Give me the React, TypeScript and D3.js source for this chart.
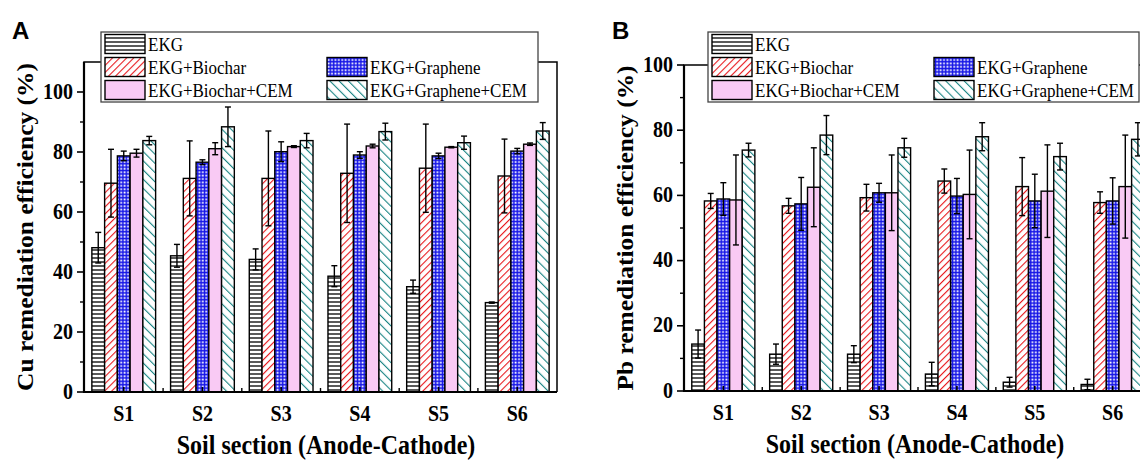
import React from "react";
import * as d3 from "d3";

// Soil sections along the cell, anode to cathode
const sections = ["S1", "S2", "S3", "S4", "S5", "S6"];

// Treatments, in the order the bars appear inside each section
const treatments = ["EKG", "EKG+Biochar", "EKG+Graphene", "EKG+Biochar+CEM", "EKG+Graphene+CEM"];

// Cu remediation efficiency (%) and standard deviations
const cuEKG = [48.1, 45.4, 44.2, 38.6, 35.1, 29.8];
const cuEKGErr = [5.1, 3.8, 3.5, 3.5, 2.2, 0.2];
const cuBiochar = [69.6, 71.2, 71.2, 72.9, 74.6, 72.0];
const cuBiocharErr = [11.3, 12.5, 15.8, 16.4, 14.7, 12.3];
const cuGraphene = [78.7, 76.6, 80.1, 79.0, 78.7, 80.3];
const cuGrapheneErr = [1.6, 0.8, 3.3, 1.1, 0.9, 0.9];
const cuBiocharCEM = [79.6, 81.1, 81.8, 82.0, 81.6, 82.6];
const cuBiocharCEMErr = [1.3, 2.0, 0.3, 0.6, 0.2, 0.4];
const cuGrapheneCEM = [83.8, 88.4, 83.8, 86.8, 83.1, 87.0];
const cuGrapheneCEMErr = [1.4, 6.6, 2.4, 2.8, 2.2, 2.8];

// Pb remediation efficiency (%) and standard deviations
const pbEKG = [14.4, 11.3, 11.3, 5.2, 2.7, 2.0];
const pbEKGErr = [4.3, 3.1, 2.6, 3.6, 1.5, 1.6];
const pbBiochar = [58.3, 56.8, 59.3, 64.4, 62.7, 57.8];
const pbBiocharErr = [2.3, 2.3, 4.1, 3.7, 8.9, 3.3];
const pbGraphene = [58.9, 57.4, 60.8, 59.8, 58.3, 58.3];
const pbGrapheneErr = [5.0, 8.1, 2.9, 5.4, 8.2, 7.1];
const pbBiocharCEM = [58.6, 62.5, 60.8, 60.3, 61.3, 62.7];
const pbBiocharCEMErr = [13.8, 12.1, 11.6, 13.6, 14.2, 15.8];
const pbGrapheneCEM = [73.9, 78.5, 74.6, 78.0, 71.9, 77.2];
const pbGrapheneCEMErr = [2.1, 6.0, 2.9, 4.3, 4.1, 5.1];

const cuTicks = [0, 20, 40, 60, 80, 100];
const pbTicks = [0, 20, 40, 60, 80, 100];

const cuValues = [cuEKG, cuBiochar, cuGraphene, cuBiocharCEM, cuGrapheneCEM];
const cuErrors = [cuEKGErr, cuBiocharErr, cuGrapheneErr, cuBiocharCEMErr, cuGrapheneCEMErr];
const pbValues = [pbEKG, pbBiochar, pbGraphene, pbBiocharCEM, pbGrapheneCEM];
const pbErrors = [pbEKGErr, pbBiocharErr, pbGrapheneErr, pbBiocharCEMErr, pbGrapheneCEMErr];

const fills = ["url(#hlines)", "url(#redDiag)", "url(#blueGrid)", "#f9caf4", "url(#tealDiag)"];

const SERIF = "'Liberation Serif', 'Times New Roman', serif";
const SANS = "'Liberation Sans', Arial, sans-serif";

type PanelProps = {
  letter: string;
  yTitle: string;
  values: number[][];
  errors: number[][];
  ticks: number[];
  yMax: number;
  left: number;
  right: number;
  top: number;
  bottom: number;
  legendLeft: number;
  legendWidth: number;
  letterX: number;
  yTitleX: number;
  xTitleX: number;
};

function Panel(p: PanelProps) {
  const x = d3.scaleBand<string>().domain(sections).range([p.left, p.right]).paddingInner(0.19).paddingOuter(0.1);
  const inner = d3.scaleBand<string>().domain(treatments).range([0, x.bandwidth()]);
  const y = d3.scaleLinear().domain([0, p.yMax]).range([p.bottom, p.top]);
  const minorY = d3.range(10, p.yMax, 20);
  const step = x.step();
  const boundaries = sections.slice(0, -1).map((s) => (x(s) as number) + x.bandwidth() + (step - x.bandwidth()) / 2);
  const cap = 3;

  const legendRows = [
    { key: 0, col: 0, row: 0 },
    { key: 1, col: 0, row: 1 },
    { key: 2, col: 1, row: 1 },
    { key: 3, col: 0, row: 2 },
    { key: 4, col: 1, row: 2 },
  ];
  const legTop = 32;
  const legH = 70;

  return (
    <g>
      <text x={p.letterX} y={39} fontFamily={SANS} fontWeight="bold" fontSize={24} fill="#000">
        {p.letter}
      </text>

      {/* bars */}
      {sections.map((s, i) => (
        <g key={s}>
          {treatments.map((t, k) => {
            const v = p.values[k][i];
            const bx = (x(s) as number) + (inner(t) as number);
            return (
              <rect
                key={t}
                x={bx}
                y={y(v)}
                width={inner.bandwidth()}
                height={y(0) - y(v)}
                fill={fills[k]}
                stroke="#000"
                strokeWidth={1.4}
              />
            );
          })}
        </g>
      ))}

      {/* error bars */}
      {sections.map((s, i) => (
        <g key={"e" + s} stroke="#000" strokeWidth={1.4}>
          {treatments.map((t, k) => {
            const v = p.values[k][i];
            const e = p.errors[k][i];
            const cx = (x(s) as number) + (inner(t) as number) + inner.bandwidth() / 2;
            const y1 = y(v + e);
            const y2 = y(v - e);
            return (
              <g key={t}>
                <line x1={cx} x2={cx} y1={y1} y2={y2} />
                <line x1={cx - cap} x2={cx + cap} y1={y1} y2={y1} />
                <line x1={cx - cap} x2={cx + cap} y1={y2} y2={y2} />
              </g>
            );
          })}
        </g>
      ))}

      {/* frame */}
      <path
        d={`M${p.left},${p.bottom}V${p.top}H${p.right}V${p.bottom}`}
        fill="none"
        stroke="#000"
        strokeWidth={1.5}
      />
      <line x1={p.left} x2={p.right} y1={p.bottom} y2={p.bottom} stroke="#000" strokeWidth={2.2} />
      <line x1={p.left} x2={p.left} y1={p.bottom + 1} y2={p.top} stroke="#000" strokeWidth={2.2} />

      {/* y axis */}
      {p.ticks.map((t) => (
        <g key={"yt" + t}>
          <line x1={p.left - 7} x2={p.left} y1={y(t)} y2={y(t)} stroke="#000" strokeWidth={1.6} />
          <text
            transform={`translate(${p.left - 11},${y(t) + 6.5}) scale(1,1.12)`}
            textAnchor="end"
            fontFamily={SERIF}
            fontWeight="bold"
            fontSize={20}
            fill="#000"
          >
            {t}
          </text>
        </g>
      ))}
      {minorY.map((t) => (
        <line key={"ym" + t} x1={p.left - 4} x2={p.left} y1={y(t)} y2={y(t)} stroke="#000" strokeWidth={1.4} />
      ))}

      {/* x axis */}
      {sections.map((s) => {
        const cx = (x(s) as number) + x.bandwidth() / 2;
        return (
          <g key={"xt" + s}>
            <line x1={cx} x2={cx} y1={p.bottom} y2={p.bottom - 5} stroke="#000" strokeWidth={1.6} />
            <text
              transform={`translate(${cx},${p.bottom + 29}) scale(1,1.15)`}
              textAnchor="middle"
              fontFamily={SERIF}
              fontWeight="bold"
              fontSize={20}
              fill="#000"
            >
              {s}
            </text>
          </g>
        );
      })}
      {boundaries.map((bx, i) => (
        <line key={"xm" + i} x1={bx} x2={bx} y1={p.bottom} y2={p.bottom - 4} stroke="#000" strokeWidth={1.4} />
      ))}

      <text
        transform={`translate(${p.xTitleX},${p.bottom + 62}) scale(1,1.12)`}
        textAnchor="middle"
        fontFamily={SERIF}
        fontWeight="bold"
        fontSize={24}
        fill="#000"
      >
        Soil section (Anode-Cathode)
      </text>
      <text
        transform={`translate(${p.yTitleX},${(p.top + p.bottom) / 2}) rotate(-90) scale(1.06,1)`}
        textAnchor="middle"
        fontFamily={SERIF}
        fontWeight="bold"
        fontSize={24}
        fill="#000"
      >
        {p.yTitle}
      </text>

      {/* legend */}
      <rect x={p.legendLeft} y={legTop} width={p.legendWidth} height={legH} fill="#fff" stroke="#444" strokeWidth={1.3} />
      {legendRows.map((r) => {
        const sx = p.legendLeft + 4 + r.col * 222;
        const cy = legTop + 12 + r.row * 23;
        return (
          <g key={"lg" + r.key}>
            <rect x={sx} y={cy - 9.5} width={40} height={19} fill={fills[r.key]} stroke="#000" strokeWidth={1.4} />
            <text
              transform={`translate(${sx + 43},${cy + 7}) scale(1,1.1)`}
              fontFamily={SERIF}
              fontSize={17}
              fill="#000"
            >
              {treatments[r.key]}
            </text>
          </g>
        );
      })}
    </g>
  );
}

export default function App() {
  return (
    <svg width={1140} height={462} style={{ display: "block", position: "absolute", left: 0, top: 0 }}>
      <defs>
        <pattern id="hlines" patternUnits="userSpaceOnUse" width={4} height={4}>
          <rect width={4} height={4} fill="#fff" />
          <line x1={0} x2={4} y1={2} y2={2} stroke="#000" strokeWidth={1.3} />
        </pattern>
        <pattern id="redDiag" patternUnits="userSpaceOnUse" width={5} height={5} patternTransform="rotate(45)">
          <rect width={5} height={5} fill="#fff" />
          <line x1={0} x2={0} y1={0} y2={5} stroke="#e8161b" strokeWidth={2.2} />
        </pattern>
        <pattern id="blueGrid" patternUnits="userSpaceOnUse" width={3.4} height={3.4}>
          <rect width={3.4} height={3.4} fill="#1515e6" />
          <rect x={1.3} y={1.3} width={1.8} height={1.8} fill="#fff" />
        </pattern>
        <pattern id="tealDiag" patternUnits="userSpaceOnUse" width={6.5} height={6.5} patternTransform="rotate(-45)">
          <rect width={6.5} height={6.5} fill="#fff" />
          <line x1={0} x2={0} y1={0} y2={6.5} stroke="#1a8585" strokeWidth={2.2} />
        </pattern>
      </defs>
      <rect width={1140} height={462} fill="#fff" />
      <Panel
        letter="A"
        yTitle="Cu remediation efficiency (%)"
        values={cuValues}
        errors={cuErrors}
        ticks={cuTicks}
        yMax={110}
        left={84}
        right={557}
        top={62}
        bottom={392}
        legendLeft={101}
        legendWidth={437}
        letterX={12}
        yTitleX={33}
        xTitleX={326}
      />
      <Panel
        letter="B"
        yTitle="Pb remediation efficiency (%)"
        values={pbValues}
        errors={pbErrors}
        ticks={pbTicks}
        yMax={100}
        left={684}
        right={1152}
        top={65}
        bottom={391}
        legendLeft={708}
        legendWidth={431}
        letterX={612}
        yTitleX={633}
        xTitleX={915}
      />
    </svg>
  );
}
